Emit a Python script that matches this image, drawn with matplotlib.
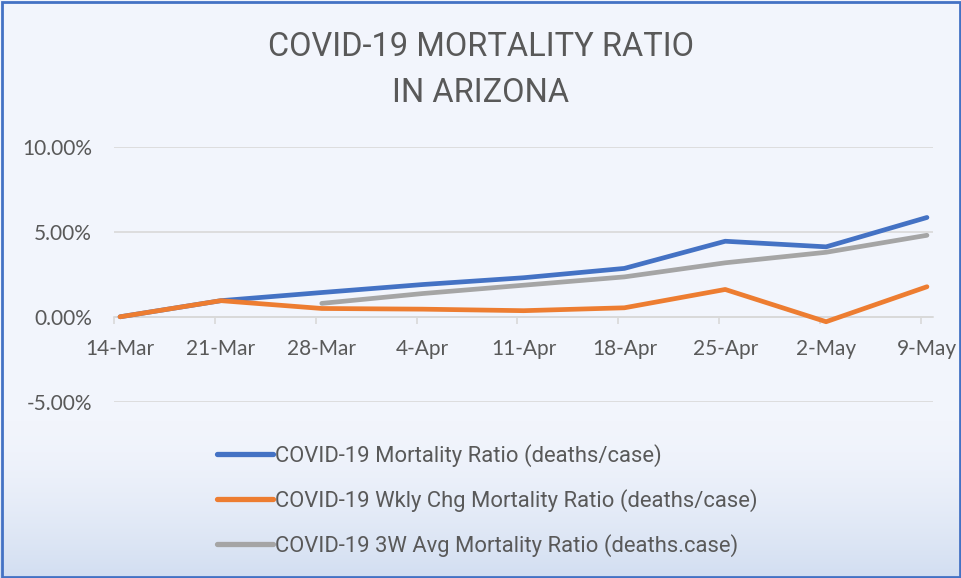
import numpy as np
import matplotlib
matplotlib.use('Agg')
import matplotlib.pyplot as plt
from matplotlib.patches import Rectangle

# weekly dates (days since 14-Mar) and labels
week_days = [0, 7, 14, 21, 28, 35, 42, 49, 56]
week_labels = ['14-Mar', '21-Mar', '28-Mar', '4-Apr', '11-Apr', '18-Apr',
               '25-Apr', '2-May', '9-May']

# values in percent
mortality = [0.0, 0.95, 1.43, 1.9, 2.3, 2.85, 4.45, 4.12, 5.85]
wkly_chg = [0.0, 0.95, 0.49, 0.45, 0.36, 0.53, 1.61, -0.29, 1.77]
avg_3w = [None, None, 0.79, 1.37, 1.86, 2.35, 3.18, 3.8, 4.8]

series_names = ['COVID-19 Mortality Ratio (deaths/case)',
                'COVID-19 Wkly Chg Mortality Ratio (deaths/case)',
                'COVID-19 3W Avg Mortality Ratio (deaths.case)']
series_colors = ['#4472C4', '#ED7D31', '#A5A5A5']

y_ticks = [-5, 0, 5, 10]

narrow = ['Roboto', 'DejaVu Sans']
text_color = '#595959'

fig = plt.figure(figsize=(9.61, 5.78), dpi=100)

# background with light gradient towards the bottom
bg = fig.add_axes([0, 0, 1, 1], zorder=-10)
grad = np.ones((578, 1, 3))
top_col = np.array([242, 245, 252]) / 255.0
bot_col = np.array([210, 222, 241]) / 255.0
rows = np.arange(578)
t = np.clip((rows - 420) / (578 - 420), 0, 1) ** 1.5
grad[:, 0, :] = top_col[None, :] * (1 - t[:, None]) + bot_col[None, :] * t[:, None]
bg.imshow(grad, aspect='auto', extent=[0, 1, 0, 1], origin='upper')
bg.set_xlim(0, 1)
bg.set_ylim(0, 1)
bg.axis('off')

ax = fig.add_axes([114 / 961, 1 - 401.7 / 578, (933 - 114) / 961, 254.7 / 578])
ax.set_facecolor('none')

x = np.array(week_days, dtype=float)
all_series = [mortality, wkly_chg, avg_3w]
zorders = [3, 5, 4]
for vals, name, col, z in zip(all_series, series_names, series_colors, zorders):
    v = np.array([np.nan if a is None else a for a in vals], dtype=float)
    ax.plot(x, v, color=col, lw=3.4, solid_capstyle='round',
            solid_joinstyle='round', label=name, zorder=z)

ax.set_xlim(-0.42, 56.42)
ax.set_ylim(-5, 10)

ax.set_yticks(y_ticks)
ax.set_yticklabels(['%.2f%%' % v for v in y_ticks])
ax.yaxis.grid(True, color='#D9D9D9', lw=1.2)
ax.set_axisbelow(True)
ax.tick_params(axis='y', length=0, pad=16, labelsize=15, labelcolor=text_color)
for lab in ax.get_yticklabels():
    lab.set_fontfamily(['Lato', 'DejaVu Sans'])

# x axis line at zero, tick marks between days, labels under the points
for s in ['top', 'right', 'left']:
    ax.spines[s].set_visible(False)
ax.spines['bottom'].set_position(('data', 0))
ax.spines['bottom'].set_color('#D9D9D9')
ax.spines['bottom'].set_linewidth(1.2)
ax.set_xticks(x)
ax.set_xticklabels(week_labels)
ax.set_xticks(x - 0.42, minor=True)
ax.tick_params(axis='x', which='major', length=0, pad=16, labelsize=15,
               labelcolor=text_color)
ax.tick_params(axis='x', which='minor', length=5, width=1.2, color='#D9D9D9')
for lab in ax.get_xticklabels():
    lab.set_fontfamily(['Lato', 'DejaVu Sans'])

fig.text(0.5, 1 - 70 / 578, 'COVID-19 MORTALITY RATIO\nIN ARIZONA',
         ha='center', va='center', fontsize=23.5, color=text_color,
         family=narrow, linespacing=1.52)

leg = fig.legend(loc='upper left', bbox_to_anchor=(197 / 961, 1 - 424 / 578),
                 frameon=False, handlelength=2.55, handletextpad=0.12,
                 labelspacing=1.0, prop={'family': narrow, 'size': 15.8})
for line in leg.get_lines():
    line.set_linewidth(3.8)
for txt in leg.get_texts():
    txt.set_color(text_color)

# chart border
fig.patches.append(Rectangle((0.002, 0.001), 0.997, 0.996, transform=fig.transFigure,
                             fill=False, edgecolor='#4472C4', lw=2.0, zorder=20))

fig.savefig('out.png', dpi=100)
plt.close()
